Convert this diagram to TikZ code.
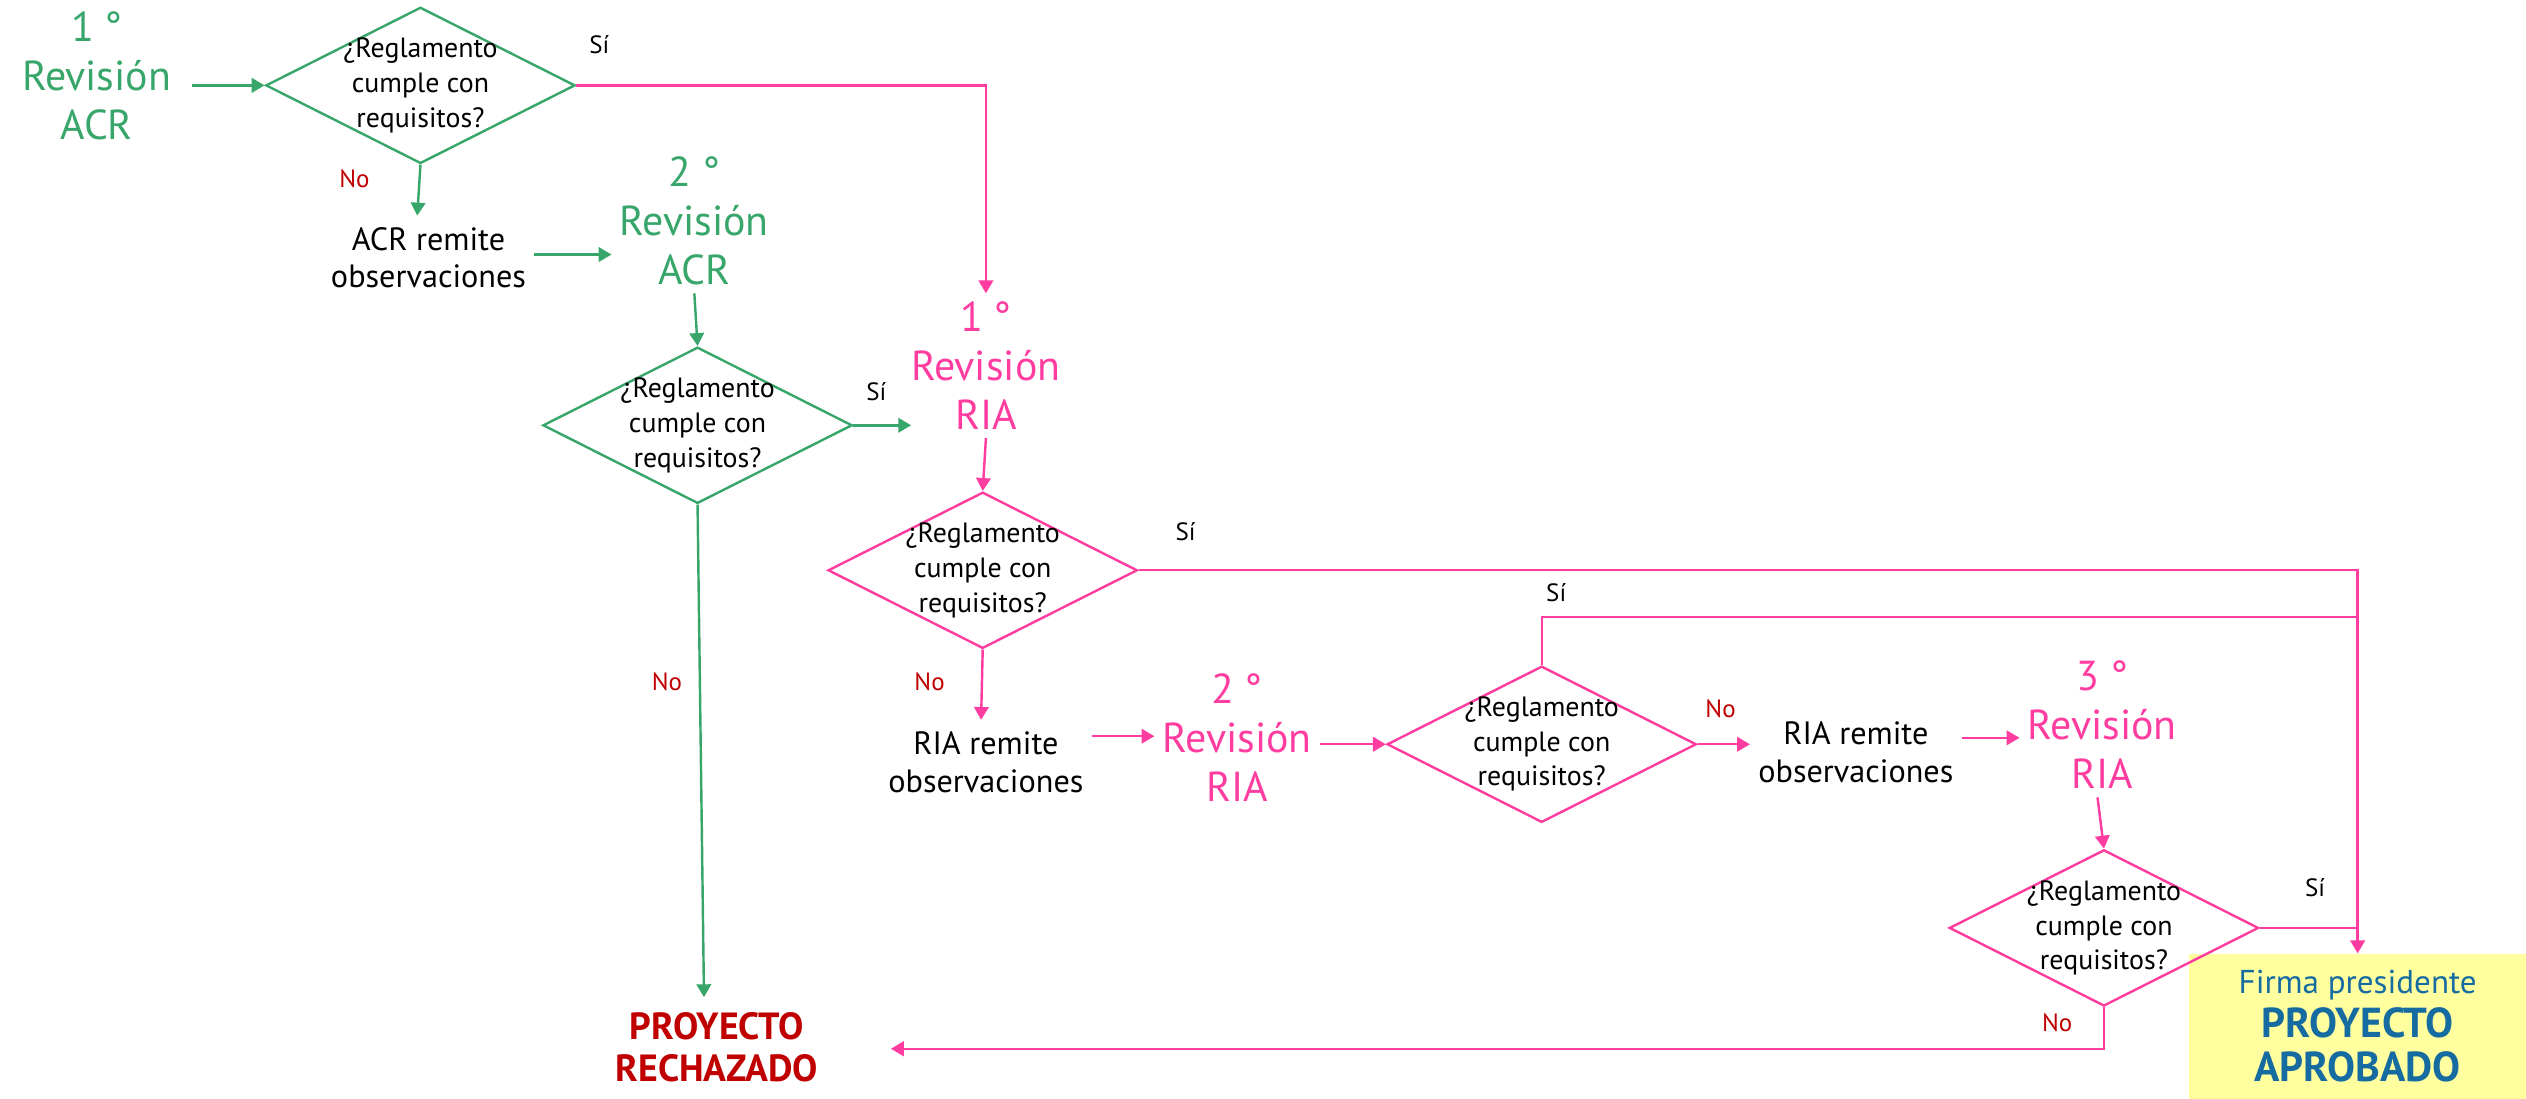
\documentclass[tikz,border=0pt]{standalone}
\usepackage{fontspec}
\setmainfont{PT Sans}
\usetikzlibrary{shapes.geometric,arrows.meta}
\definecolor{gr}{RGB}{56,166,106}
\definecolor{pk}{RGB}{255,60,160}
\definecolor{rd}{RGB}{192,0,0}
\definecolor{bl}{RGB}{22,108,160}
\definecolor{yl}{RGB}{255,255,160}
\begin{document}
\begin{tikzpicture}[x=1pt,y=-1pt,
  dia/.style={draw, shape=diamond, inner sep=0pt, line width=1.5pt, minimum width=192pt, minimum height=97pt},
  qtxt/.style={font=\fontsize{17.3}{21.5}\selectfont, align=center, inner sep=0pt, text=black},
  rev/.style={font=\fontsize{26}{30.5}\selectfont, align=center, inner sep=5pt},
  obs/.style={font=\fontsize{20}{23.5}\selectfont, align=center, inner sep=5pt, text=black},
  lbl/.style={font=\fontsize{15.5}{18}\selectfont, inner sep=0pt},
  conn/.style={line width=1.5pt, -{Triangle[length=8pt,width=9pt]}},
  plain/.style={line width=1.5pt}]
\useasboundingbox (0,0) rectangle (1568,682);

% yellow result box
\node[fill=yl, minimum width=209pt, minimum height=90pt, inner sep=0pt, align=center, text=bl,
      font=\fontsize{20.5}{27.5}\selectfont] (yb) at (1463.5,637)
  {Firma presidente\\{\bfseries\fontsize{26}{27.5}\selectfont PROYECTO}\\{\bfseries\fontsize{26}{27.5}\selectfont APROBADO}};

% green part
\node[rev, text=gr] (r1) at (60,47) {1\kern0.25em°\\Revisión\\ACR};
\node[dia, draw=gr] (d1) at (261,53) {};
\node[qtxt] (d1t) at (261,53) {¿Reglamento\\cumple con\\requisitos?};
\node[lbl] (s1) at (372,28) {Sí};
\node[lbl, text=rd] (n1) at (220,111) {No};
\node[obs] (o1) at (266,160) {ACR remite\\observaciones};
\node[rev, text=gr] (r2) at (431,137) {2\kern0.25em°\\Revisión\\ACR};
\node[dia, draw=gr] (d2) at (433,264) {};
\node[qtxt] (d2t) at (433,264) {¿Reglamento\\cumple con\\requisitos?};
\node[lbl] (s2) at (544,243) {Sí};
\node[lbl, text=rd] (n2) at (414,423) {No};
\node[font=\bfseries\fontsize{23.5}{26.5}\selectfont, align=center, text=rd, inner sep=4pt] (rj) at (445,650) {PROYECTO\\RECHAZADO};

% pink part
\node[rev, text=pk] (r3) at (612,227) {1\kern0.25em°\\Revisión\\RIA};
\node[dia, draw=pk] (d3) at (610,354) {};
\node[qtxt] (d3t) at (610,354) {¿Reglamento\\cumple con\\requisitos?};
\node[lbl] (s3) at (736,330) {Sí};
\node[lbl, text=rd] (n3) at (577,423) {No};
\node[obs] (o2) at (612,473) {RIA remite\\observaciones};
\node[rev, text=pk] (r4) at (768,458) {2\kern0.25em°\\Revisión\\RIA};
\node[dia, draw=pk] (d4) at (957,462) {};
\node[qtxt] (d4t) at (957,462) {¿Reglamento\\cumple con\\requisitos?};
\node[lbl] (s4) at (966,368) {Sí};
\node[lbl, text=rd] (n4) at (1068,440) {No};
\node[obs] (o3) at (1152,467) {RIA remite\\observaciones};
\node[rev, text=pk] (r5) at (1305,450) {3\kern0.25em°\\Revisión\\RIA};
\node[dia, draw=pk] (d5) at (1306,576) {};
\node[qtxt] (d5t) at (1306,576) {¿Reglamento\\cumple con\\requisitos?};
\node[lbl] (s5) at (1437,551) {Sí};
\node[lbl, text=rd] (n5) at (1277,635) {No};

\coordinate (j1) at (1463.5,383);
\coordinate (rjin) at (553,651);

% green connectors
\draw[conn, gr] ([xshift=8pt]r1.east |- d1.west) -- (d1.west);
\draw[conn, gr] (d1.south) -- ([xshift=-7pt,yshift=2pt]o1.north);
\draw[conn, gr] ([yshift=2pt]o1.east) -- ([yshift=2pt]o1.east -| r2.west);
\draw[conn, gr] (r2.south) -- (d2.north);
\draw[conn, gr] (d2.east) -- ([xshift=5pt]d2.east -| r3.west);
\draw[conn, gr] (d2.south) -- ([xshift=-8pt,yshift=5pt]rj.north);

% pink connectors
\draw[conn, pk] (d1.east) -| (r3.north);
\draw[conn, pk] (r3.south) -- (d3.north);
\draw[conn, pk] (d3.east) -| (yb.north);
\draw[plain, pk] (d4.north) |- (j1);
\draw[plain, pk] (d5.east) -- (d5.east -| yb.north);
\draw[conn, pk] (d3.south) -- ([xshift=-3pt,yshift=2pt]o2.north);
\draw[conn, pk] ([yshift=16pt]o2.east) -- ([yshift=16pt]o2.east -| r4.west);
\draw[conn, pk] (r4.east |- d4.west) -- (d4.west);
\draw[conn, pk] (d4.east) -- (d4.east -| o3.west);
\draw[conn, pk] ([yshift=9pt]o3.east) -- ([yshift=9pt]o3.east -| r5.west);
\draw[conn, pk] ([xshift=-3pt]r5.south) -- (d5.north);
\draw[conn, pk] (d5.south) |- (rjin);
\end{tikzpicture}
\end{document}
